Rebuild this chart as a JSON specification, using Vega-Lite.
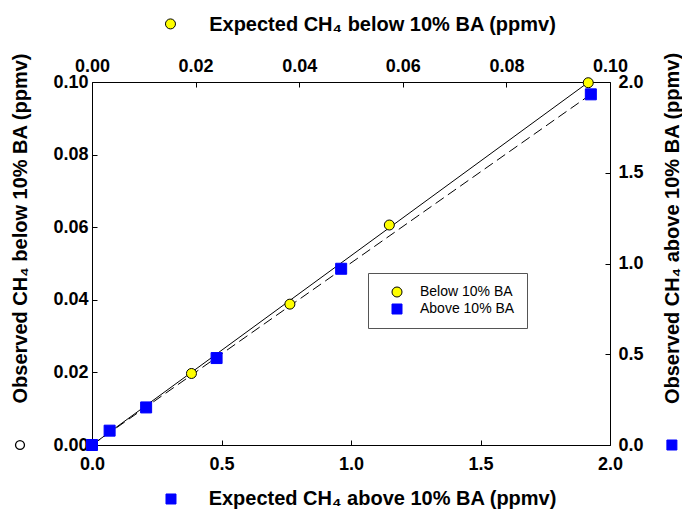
{
  "$schema": "https://vega.github.io/schema/vega-lite/v6.json",
  "width": 518,
  "height": 363,
  "autosize": {"type": "none"},
  "padding": {"left": 92, "top": 82, "right": 72, "bottom": 65},
  "background": "white",
  "config": {
    "view": {"stroke": null},
    "font": "Liberation Sans",
    "axis": {
      "domainColor": "#000000", "domainWidth": 1,
      "tickColor": "#000000", "tickWidth": 1, "tickSize": -5,
      "labelFont": "Liberation Sans", "labelFontWeight": "bold", "labelFontSize": 18, "labelColor": "#000000",
      "titleFont": "Liberation Sans", "titleFontWeight": "bold", "titleFontSize": 20, "titleColor": "#000000",
      "grid": false, "labelFlush": false, "labelOverlap": false
    },
    "legend": {
      "orient": "none", "legendX": 276, "legendY": 191,
      "strokeColor": "#555555", "fillColor": "#ffffff", "padding": 12,
      "labelFont": "Liberation Sans", "labelFontSize": 14, "labelColor": "#000000",
      "symbolSize": 100, "symbolStrokeWidth": 1, "rowPadding": 3,
      "labelOffset": 16, "symbolOffset": 10
    }
  },
  "datasets": {
    "below": [
      {"x": 0.0192, "y": 0.0197, "series": "Below 10% BA"},
      {"x": 0.0382, "y": 0.0388, "series": "Below 10% BA"},
      {"x": 0.0574, "y": 0.0606, "series": "Below 10% BA"},
      {"x": 0.0958, "y": 0.0998, "series": "Below 10% BA"}
    ],
    "above": [
      {"x": 0.0, "y": 0.0, "series": "Above 10% BA"},
      {"x": 0.068, "y": 0.079, "series": "Above 10% BA"},
      {"x": 0.209, "y": 0.207, "series": "Above 10% BA"},
      {"x": 0.481, "y": 0.479, "series": "Above 10% BA"},
      {"x": 0.962, "y": 0.971, "series": "Above 10% BA"},
      {"x": 1.926, "y": 1.932, "series": "Above 10% BA"}
    ],
    "fitBelow": [{"x": 0, "y": 0}, {"x": 0.0958, "y": 0.0999}],
    "fitAbove": [{"x": 0, "y": 0}, {"x": 1.926, "y": 1.932}],
    "keyBelow": [{"x": 0.01515, "y": 0.116, "series": "Below 10% BA"}],
    "keyLeft": [{"x": -0.0139, "y": 0}],
    "keyAbove": [
      {"x": 0.305, "y": -0.2975, "series": "Above 10% BA"},
      {"x": 2.239, "y": 0, "series": "Above 10% BA"}
    ]
  },
  "layer": [
    {
      "data": {"name": "fitBelow"},
      "mark": {"type": "line", "color": "#000000", "strokeWidth": 1},
      "encoding": {
        "x": {"field": "x", "type": "quantitative", "scale": {"domain": [0, 0.1], "nice": false, "zero": false},
          "axis": {"orient": "top", "values": [0, 0.02, 0.04, 0.06, 0.08, 0.1], "format": ".2f",
            "title": "Expected CH₄ below 10% BA (ppmv)", "titleX": 290, "titleY": -58,
            "titleBaseline": "middle", "titleAlign": "center", "labelPadding": 12}},
        "y": {"field": "y", "type": "quantitative", "scale": {"domain": [0, 0.1], "nice": false, "zero": false},
          "axis": {"orient": "left", "values": [0, 0.02, 0.04, 0.06, 0.08, 0.1], "format": ".2f",
            "title": "Observed CH₄ below 10% BA (ppmv)", "titleAngle": 270, "titleX": -72, "titleY": 146,
            "titleBaseline": "middle", "titleAlign": "center", "labelPadding": 9}}
      }
    },
    {
      "data": {"name": "fitAbove"},
      "mark": {"type": "line", "color": "#000000", "strokeWidth": 1, "strokeDash": [10, 5]},
      "encoding": {
        "x": {"field": "x", "type": "quantitative", "scale": {"domain": [0, 2], "nice": false, "zero": false},
          "axis": {"orient": "bottom", "values": [0, 0.5, 1, 1.5, 2], "format": ".1f",
            "title": "Expected CH₄ above 10% BA (ppmv)", "titleX": 290, "titleY": 53,
            "titleBaseline": "middle", "titleAlign": "center", "labelPadding": 15}},
        "y": {"field": "y", "type": "quantitative", "scale": {"domain": [0, 2], "nice": false, "zero": false},
          "axis": {"orient": "right", "values": [0, 0.5, 1, 1.5, 2], "format": ".1f",
            "title": "Observed CH₄ above 10% BA (ppmv)", "titleAngle": 270, "titleX": 62, "titleY": 146,
            "titleBaseline": "middle", "titleAlign": "center", "labelPadding": 13}}
      }
    },
    {
      "layer": [
        {"data": {"name": "below"}, "mark": {"type": "point", "filled": true, "size": 100, "strokeWidth": 1, "opacity": 1}},
        {"data": {"name": "keyBelow"}, "mark": {"type": "point", "filled": true, "size": 100, "strokeWidth": 1, "opacity": 1}}
      ],
      "encoding": {
        "x": {"field": "x", "type": "quantitative", "scale": {"domain": [0, 0.1], "nice": false, "zero": false}, "axis": null},
        "y": {"field": "y", "type": "quantitative", "scale": {"domain": [0, 0.1], "nice": false, "zero": false}, "axis": null},
        "fill": {"field": "series", "type": "nominal", "scale": {"domain": ["Below 10% BA", "Above 10% BA"], "range": ["#ffff00", "#0000ff"]}, "legend": {"title": null}},
        "shape": {"field": "series", "type": "nominal", "scale": {"domain": ["Below 10% BA", "Above 10% BA"], "range": ["circle", "square"]}, "legend": {"title": null}},
        "stroke": {"field": "series", "type": "nominal", "scale": {"domain": ["Below 10% BA", "Above 10% BA"], "range": ["#000000", "#0000ff"]}, "legend": {"title": null}}
      }
    },
    {
      "data": {"name": "keyLeft"},
      "mark": {"type": "point", "shape": "circle", "filled": true, "fill": "#ffffff", "stroke": "#000000", "strokeWidth": 1.3, "size": 80, "opacity": 1},
      "encoding": {
        "x": {"field": "x", "type": "quantitative", "scale": {"domain": [0, 0.1], "nice": false, "zero": false}, "axis": null},
        "y": {"field": "y", "type": "quantitative", "scale": {"domain": [0, 0.1], "nice": false, "zero": false}, "axis": null}
      }
    },
    {
      "layer": [
        {"data": {"name": "above"}, "mark": {"type": "point", "filled": true, "size": 121, "strokeWidth": 1, "opacity": 1}},
        {"data": {"name": "keyAbove"}, "mark": {"type": "point", "filled": true, "size": 100, "strokeWidth": 1, "opacity": 1}}
      ],
      "encoding": {
        "x": {"field": "x", "type": "quantitative", "scale": {"domain": [0, 2], "nice": false, "zero": false}, "axis": null},
        "y": {"field": "y", "type": "quantitative", "scale": {"domain": [0, 2], "nice": false, "zero": false}, "axis": null},
        "fill": {"field": "series", "type": "nominal", "scale": {"domain": ["Below 10% BA", "Above 10% BA"], "range": ["#ffff00", "#0000ff"]}, "legend": {"title": null}},
        "shape": {"field": "series", "type": "nominal", "scale": {"domain": ["Below 10% BA", "Above 10% BA"], "range": ["circle", "square"]}, "legend": {"title": null}},
        "stroke": {"field": "series", "type": "nominal", "scale": {"domain": ["Below 10% BA", "Above 10% BA"], "range": ["#000000", "#0000ff"]}, "legend": {"title": null}}
      }
    }
  ],
  "resolve": {"scale": {"x": "independent", "y": "independent"}}
}
